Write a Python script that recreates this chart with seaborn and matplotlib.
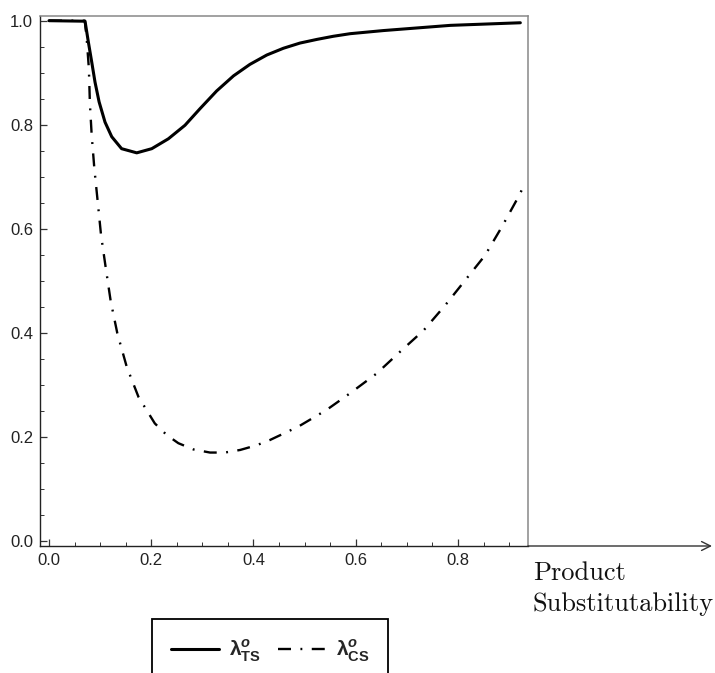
import pandas as pd
import seaborn as sns
import matplotlib.pyplot as plt

# values
ts_x = [0.0, 0.0705, 0.077, 0.0835, 0.090, 0.098, 0.1096, 0.1227, 0.142, 0.1716,
        0.201, 0.2335, 0.266, 0.2955, 0.328, 0.361, 0.393, 0.426, 0.4585, 0.491,
        0.524, 0.556, 0.589, 0.654, 0.785, 0.922]
ts_y = [1.0, 0.999, 0.959, 0.921, 0.882, 0.844, 0.805, 0.777, 0.754, 0.746,
        0.754, 0.773, 0.799, 0.831, 0.865, 0.894, 0.916, 0.934, 0.947, 0.957,
        0.964, 0.970, 0.975, 0.981, 0.991, 0.996]

cs_x = [0.0, 0.070, 0.0737, 0.078, 0.080, 0.0835, 0.0887, 0.0953, 0.1018, 0.111,
        0.1207, 0.1337, 0.152, 0.175, 0.207, 0.230, 0.253, 0.2825, 0.315, 0.344,
        0.374, 0.406, 0.432, 0.488, 0.543, 0.589, 0.641, 0.687, 0.733, 0.775,
        0.814, 0.853, 0.886, 0.918, 0.925]
cs_y = [1.0, 1.0, 0.966, 0.908, 0.841, 0.780, 0.716, 0.652, 0.588, 0.525,
        0.461, 0.399, 0.335, 0.277, 0.226, 0.204, 0.188, 0.176, 0.170, 0.170,
        0.175, 0.184, 0.194, 0.220, 0.252, 0.284, 0.322, 0.364, 0.405, 0.453,
        0.501, 0.549, 0.604, 0.661, 0.675]

x_ticks = [0.0, 0.2, 0.4, 0.6, 0.8]
y_ticks = [0.0, 0.2, 0.4, 0.6, 0.8, 1.0]
series_labels = [r'$\mathbf{\lambda}^{\mathbfit{o}}_{\mathbf{TS}}$',
                 r'$\mathbf{\lambda}^{\mathbfit{o}}_{\mathbf{CS}}$']
x_title = 'Product\nSubstitutability'

sns.set_style('ticks')
plt.rcParams['font.family'] = ['Liberation Sans', 'DejaVu Sans']
plt.rcParams['mathtext.fontset'] = 'custom'
plt.rcParams['mathtext.rm'] = 'Liberation Sans'
plt.rcParams['mathtext.bf'] = 'Liberation Sans:bold'
plt.rcParams['mathtext.bfit'] = 'Liberation Sans:bold:italic'

fig = plt.figure(figsize=(7.15, 6.73), dpi=100)
ax = fig.add_axes([40 / 715, 1 - 546 / 673, 488 / 715, 530 / 673])

ts = pd.DataFrame({'x': ts_x, 'y': ts_y})
cs = pd.DataFrame({'x': cs_x, 'y': cs_y})
sns.lineplot(data=ts, x='x', y='y', ax=ax, color='black', lw=2.2,
             sort=False, label=series_labels[0])
sns.lineplot(data=cs, x='x', y='y', ax=ax, color='black', lw=1.7,
             sort=False, label=series_labels[1],
             linestyle=(0, (5.5, 4, 0.8, 4)))

ax.set_xlim(-0.0176, 0.937)
ax.set_ylim(-0.0096, 1.009)
ax.set_xticks(x_ticks)
ax.set_yticks(y_ticks)
ax.set_xticks([i * 0.05 for i in range(19)], minor=True)
ax.set_yticks([i * 0.05 for i in range(21)], minor=True)
ax.set_xticklabels([f'{v:.1f}' for v in x_ticks])
ax.set_yticklabels([f'{v:.1f}' for v in y_ticks])
ax.tick_params(which='both', direction='in', colors='#333', labelcolor='#222',
               labelsize=12, top=False, right=False)
ax.tick_params(which='major', length=5, width=0.9)
ax.tick_params(which='minor', length=3, width=0.7)
ax.tick_params(axis='x', pad=5)
ax.tick_params(axis='y', pad=5)
ax.set_xlabel('')
ax.set_ylabel('')

for side in ['top', 'right']:
    ax.spines[side].set_color('#888')
    ax.spines[side].set_linewidth(1.1)
for side in ['left', 'bottom']:
    ax.spines[side].set_color('#222')
    ax.spines[side].set_linewidth(1.0)

# x axis continues past the frame with an open arrow
ax.annotate('', xy=(672 / 488, 0), xytext=(1.0, 0), xycoords='axes fraction',
            arrowprops=dict(arrowstyle='->', color='#333', lw=1.0,
                            mutation_scale=16, shrinkA=0, shrinkB=0),
            annotation_clip=False)

fig.text(533 / 715, 1 - 561 / 673, x_title, family='cmr10', fontsize=19,
         ha='left', va='top', linespacing=1.38, color='#111')

ax.legend(loc='upper left', bbox_to_anchor=(152 / 715, 1 - 619 / 673),
          bbox_transform=fig.transFigure, ncol=2, fontsize=15,
          frameon=True, fancybox=False, framealpha=1, edgecolor='black',
          handlelength=2.3, handletextpad=0.5, columnspacing=0.8,
          borderpad=0.9, borderaxespad=0)
ax.get_legend().get_frame().set_linewidth(1.3)

fig.savefig('out.png', dpi=100)
